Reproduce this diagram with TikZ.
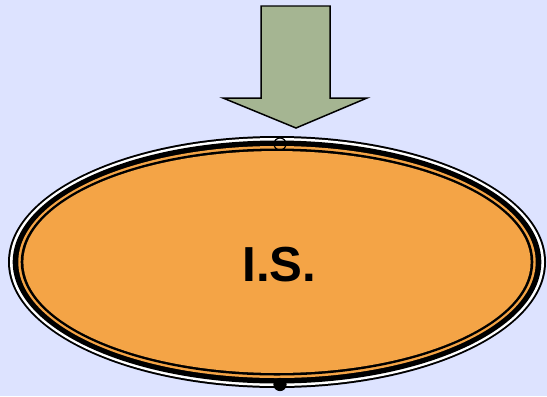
\documentclass[tikz,border=0pt]{standalone}
\usepackage{fontspec}
\setmainfont{Liberation Sans}
\definecolor{isbg}{RGB}{221,227,255}
\definecolor{isorange}{RGB}{244,164,70}
\definecolor{isgreen}{RGB}{165,181,146}
\usetikzlibrary{positioning,shapes.geometric}

\begin{document}
\begin{tikzpicture}[x=0.02cm, y=-0.02cm,
    ring/.style={ellipse, inner sep=0pt, outer sep=0pt},
    pin/.style={circle, draw=black, line width=0.7pt, minimum size=0.24cm, inner sep=0pt},
    feedarrow/.style={draw=black, line width=0.85pt, fill=isgreen, line join=miter}
  ]
    % background
    \fill[isbg] (0,0) rectangle (547,396);
    \useasboundingbox (0,0) rectangle (547,396);

    % stacked outlines of the ellipse
    \fill[black]     (277,262) ellipse [x radius=269,   y radius=126];
    \fill[white]     (277,262) ellipse [x radius=267,   y radius=124];
    \fill[black]     (277,262) ellipse [x radius=264.3, y radius=121.5];
    \fill[isorange]  (277,262) ellipse [x radius=258.7, y radius=116];
    \fill[black]     (277,262) ellipse [x radius=256.3, y radius=113.5];
    \node[ring, fill=isorange, minimum width=253.7*0.04cm, minimum height=111*0.04cm,
          label={[name=islabel, xshift=0.05cm, yshift=-0.05cm,
                  font=\fontsize{28}{32}\selectfont\bfseries]center:I.S.}] (is) at (277,262) {};

    % input arrow
    \draw[feedarrow] (261,6) -- (330,6) -- (330,98) -- (367,98) -- (296,128)
        -- (223,98) -- (261,98) -- cycle;

    % connection points
    \node[pin, fill=none]  (intop) at (280,144) {};
    \node[pin, fill=black] (inbot) at (280,384.5) {};
  \end{tikzpicture}
\end{document}
